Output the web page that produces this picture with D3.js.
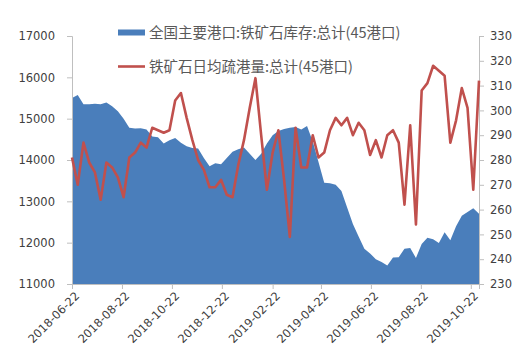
<!DOCTYPE html>
<html><head><meta charset="utf-8">
<script src="https://cdn.jsdelivr.net/npm/d3@7"></script>
<style>html,body{margin:0;padding:0;background:#fff;}svg{display:block;}</style>
</head><body>
<svg id="chart" width="524" height="358"></svg>
<script>
const startDate = "2018-06-22";
const endDate = "2019-11-01";
const seriesNames = ["全国主要港口:铁矿石库存:总计(45港口)", "铁矿石日均疏港量:总计(45港口)"];
const inventory = [15500,15570,15350,15350,15360,15350,15390,15300,15180,15000,
  14780,14760,14770,14740,14570,14550,14400,14480,14530,14420,
  14330,14290,14280,14050,13850,13920,13900,14050,14200,14260,
  14300,14150,14000,14150,14400,14600,14700,14750,14780,14800,
  14740,14820,14450,13950,13450,13440,13400,13250,12850,12450,
  12150,11850,11740,11600,11530,11450,11640,11650,11850,11870,
  11630,11970,12120,12080,11990,12250,12060,12400,12650,12740,
  12830,12700];
const dailyOutflow = [281,270,287,279,275,264,279,277,273,265,
  281,283,287,285,293,292,291,292,304,307,
  297,288,280,276,269,269,272,266,265,278,
  288,301,313,290,268,283,292,272,249,293,
  277,277,290,281,283,292,297,294,297,290,
  295,292,282,288,281,290,292,287,262,294,
  254,308,311,318,316,314,287,296,309,301,
  268,312];
const xTickLabels = ["2018-06-22","2018-08-22","2018-10-22","2018-12-22","2019-02-22","2019-04-22","2019-06-22","2019-08-22","2019-10-22"];
const leftTicks = [11000,12000,13000,14000,15000,16000,17000];
const rightTicks = [230,240,250,260,270,280,290,300,310,320,330];

const parse = d3.timeParse("%Y-%m-%d");
const dates = d3.timeDay.range(parse(startDate), d3.timeDay.offset(parse(endDate),1), 7);
const data = dates.map((d,i)=>({date:d, inv:inventory[i], out:dailyOutflow[i]}));

const svg = d3.select("#chart");
const L = 72, R = 479, T = 36, B = 284;
const x = d3.scaleTime().domain([parse(startDate), parse(endDate)]).range([L, R]);
const yL = d3.scaleLinear().domain([11000,17000]).range([B, T]);
const yR = d3.scaleLinear().domain([230,330]).range([B, T]);

const txtColor = "#404040", axisColor = "#bfbfbf";
const numFont = "DejaVu Sans, sans-serif";

// area
svg.append("path").datum(data)
  .attr("fill", "#4a7ebb")
  .attr("d", d3.area().x(d=>x(d.date)).y0(yL(11000)).y1(d=>yL(d.inv)));

// left axis
const gL = svg.append("g").attr("transform",`translate(${L},0)`)
  .call(d3.axisLeft(yL).tickValues(leftTicks).tickSize(5).tickPadding(12).tickFormat(d3.format("d")));
// right axis
const gR = svg.append("g").attr("transform",`translate(${R},0)`)
  .call(d3.axisRight(yR).tickValues(rightTicks).tickSize(5).tickPadding(6).tickFormat(d3.format("d")));
// bottom axis
const gB = svg.append("g").attr("transform",`translate(0,${B})`)
  .call(d3.axisBottom(x).tickValues(xTickLabels.map(parse)).tickSize(5).tickFormat(d3.timeFormat("%Y-%m-%d")));
gB.selectAll("text").attr("transform","rotate(-45)").attr("text-anchor","end")
  .attr("dx","-0.3em").attr("dy","0.55em");

[gL,gR,gB].forEach(g=>{
  g.select(".domain").attr("stroke",axisColor);
  g.selectAll(".tick line").attr("stroke",axisColor);
  g.selectAll("text").attr("fill",txtColor).style("font-family",numFont).style("font-size","11.5px");
});

// line
svg.append("path").datum(data)
  .attr("fill","none").attr("stroke","#c0504d").attr("stroke-width",2.6)
  .attr("stroke-linejoin","round")
  .attr("d", d3.line().x(d=>x(d.date)).y(d=>yR(d.out)));

// legend
const lg = svg.append("g");
lg.append("rect").attr("x",118).attr("y",29.5).attr("width",27).attr("height",6).attr("fill","#4a7ebb");
lg.append("line").attr("x1",118).attr("x2",145).attr("y1",66.5).attr("y2",66.5)
  .attr("stroke","#c0504d").attr("stroke-width",2.6);
lg.selectAll("text.lg").data(seriesNames).join("text")
  .attr("x",149).attr("y",(d,i)=> i===0 ? 38 : 72)
  .attr("fill","#595959").style("font-family","Noto Sans CJK SC, sans-serif").style("font-size","14.5px")
  .text(d=>d);
</script>
</body></html>
